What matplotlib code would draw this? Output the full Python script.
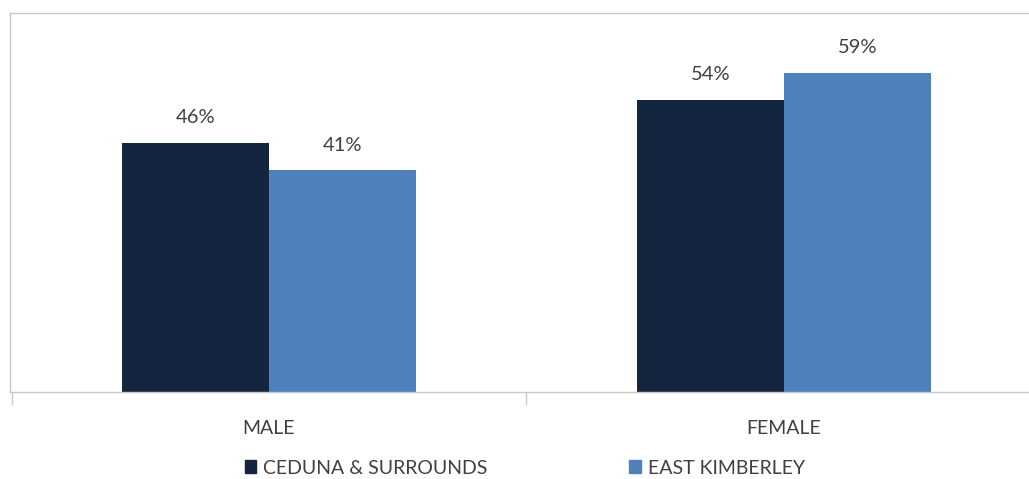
import numpy as np
import matplotlib.pyplot as plt
from matplotlib.patches import Patch

plt.rcParams['font.family'] = ['Lato', 'DejaVu Sans']

kategorien = ['MALE', 'FEMALE']
serien = ['CEDUNA & SURROUNDS', 'EAST KIMBERLEY']
ceduna = [46, 54]
east_kimberley = [41, 59]

farben = ['#13253F', '#4F81BD']
textfarbe = '#404040'

fig = plt.figure(figsize=(10.29, 4.79), dpi=100)
ax = fig.add_axes([10 / 1029, (479 - 392) / 479, 1019 / 1029, (392 - 13) / 479])

x = np.arange(len(kategorien))
breite = 0.285

# Balken und Prozentwerte darueber
for werte, farbe, off in [(ceduna, farben[0], -breite / 2), (east_kimberley, farben[1], breite / 2)]:
    balken = ax.bar(x + off, werte, width=breite, color=farbe)
    for b, w in zip(balken, werte):
        ax.annotate(f'{w}%', (b.get_x() + b.get_width() / 2, w),
                    xytext=(0, 18), textcoords='offset points',
                    ha='center', va='center', fontsize=14.5, color=textfarbe)

ax.set_xlim(-0.503, 1.476)
ax.set_ylim(0, 70)
ax.set_yticks([])
ax.set_xticks([-0.5, 0.5], minor=False)
ax.set_xticklabels([])
ax.tick_params(axis='x', length=9, color='#c8c8c8', width=1)
for i, k in enumerate(kategorien):
    ax.text(i, -0.095, k, transform=ax.get_xaxis_transform(), ha='center', va='center',
            fontsize=14, color=textfarbe)

ax.spines['right'].set_visible(False)
for s in ['top', 'left', 'bottom']:
    ax.spines[s].set_color('#c8c8c8')
    ax.spines[s].set_linewidth(1)

handles = [Patch(color=farben[0]), Patch(color=farben[1])]
fig.legend(handles, serien, loc='center', bbox_to_anchor=(0.51, 1 - 468 / 479), ncol=2,
           frameon=False, handlelength=0.6, handleheight=0.6, handletextpad=0.35,
           columnspacing=7.3, fontsize=14, labelcolor=textfarbe)

fig.savefig('out.png', dpi=100)
